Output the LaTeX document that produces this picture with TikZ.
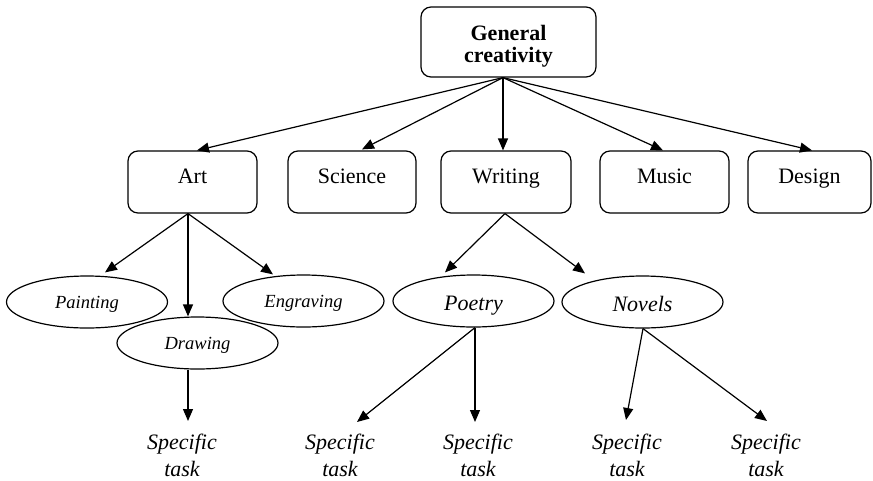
\documentclass[tikz,border=0pt]{standalone}
\usepackage{fontspec}
\setmainfont{Liberation Serif}
\usetikzlibrary{arrows.meta,shapes.geometric}
\begin{document}
\begin{tikzpicture}[x=1pt,y=-1pt,
  line width=1.2pt,
  link/.style={-{Triangle[length=12pt,width=10pt]}},
  topbox/.style={draw, rounded corners=10pt, minimum width=175pt, minimum height=70pt, inner sep=0pt},
  toptext/.style={align=center, inner sep=0pt, font=\fontsize{22}{22}\selectfont\bfseries},
  catbox/.style={draw, rounded corners=10pt, minimum height=62pt, inner sep=0pt,
    font=\fontsize{22}{26}\selectfont, text height=16pt, text depth=14pt},
  subell/.style={draw, ellipse, minimum width=161pt, minimum height=52pt, inner sep=0pt,
    font=\fontsize{18.5}{22}\selectfont\itshape, text height=15pt, text depth=2pt},
  bigell/.style={draw, ellipse, minimum width=161pt, minimum height=52pt, inner sep=0pt,
    font=\fontsize{22}{26}\selectfont\itshape, text height=18pt, text depth=0pt},
  task/.style={anchor=north, align=center, inner sep=0pt,
    font=\fontsize{22}{27}\selectfont\itshape}
]
\useasboundingbox (0,0) rectangle (873,480);

% top level
\node[topbox] (gen) at (508.5,42) {};
\node[toptext] (gentxt) at (508.5,46) {General\\creativity};

% domains
\node[catbox, minimum width=129pt] (art) at (192.5,182) {Art};
\node[catbox, minimum width=128pt] (sci) at (352,182) {Science};
\node[catbox, minimum width=130pt] (wri) at (506,182) {Writing};
\node[catbox, minimum width=129pt] (mus) at (664.5,182) {Music};
\node[catbox, minimum width=123pt] (des) at (809.5,182) {Design};

% sub-domains
\node[subell] (pai) at (87,302) {Painting};
\node[subell] (dra) at (197.5,343) {Drawing};
\node[subell] (eng) at (303.5,301) {Engraving};
\node[bigell] (poe) at (473.5,301) {Poetry};
\node[bigell] (nov) at (642.5,302) {Novels};

% specific tasks
\node[task] (t1) at (182,433) {Specific\\task};
\node[task] (t2) at (340,433) {Specific\\task};
\node[task] (t3) at (478,433) {Specific\\task};
\node[task] (t4) at (627,433) {Specific\\task};
\node[task] (t5) at (766,433) {Specific\\task};

% connectors from the top box
\coordinate (g0) at ([xshift=-5.5pt]gen.south);
\draw[link] (g0) -- ([xshift=4.5pt]art.north);
\draw[link] (g0) -- ([xshift=10pt,yshift=1pt]sci.north);
\draw[link] (g0) -- ([xshift=-3pt]wri.north);
\draw[link] (g0) -- ([xshift=-1.5pt]mus.north);
\draw[link] (g0) -- ([xshift=2.5pt]des.north);

% Art branch
\coordinate (a0) at ([xshift=-4.5pt]art.south);
\draw[link] (a0) -- ([xshift=18pt,yshift=3pt]pai.north);
\draw[link] (a0) -- ([xshift=-9.5pt]dra.north);
\draw[link] (a0) -- ([xshift=-30.5pt]eng.north);
\draw[link] ([xshift=-9.5pt]dra.south) -- ([xshift=6pt,yshift=12pt]t1.north);

% Writing branch
\coordinate (w0) at ([xshift=-1pt]wri.south);
\draw[link] (w0) -- ([xshift=-28.5pt,yshift=2pt]poe.north);
\draw[link] (w0) -- ([xshift=-57.5pt,yshift=2pt]nov.north);

% Poetry and Novels tasks
\coordinate (p0) at ([xshift=1.5pt]poe.south);
\draw[link] (p0) -- ([xshift=17pt,yshift=11pt]t2.north);
\draw[link] (p0) -- ([xshift=-3pt,yshift=11pt]t3.north);
\coordinate (n0) at ([xshift=0.5pt]nov.south);
\draw[link] (n0) -- ([xshift=-1pt,yshift=13pt]t4.north);
\draw[link] (n0) -- ([xshift=1pt,yshift=12pt]t5.north);
\end{tikzpicture}
\end{document}
